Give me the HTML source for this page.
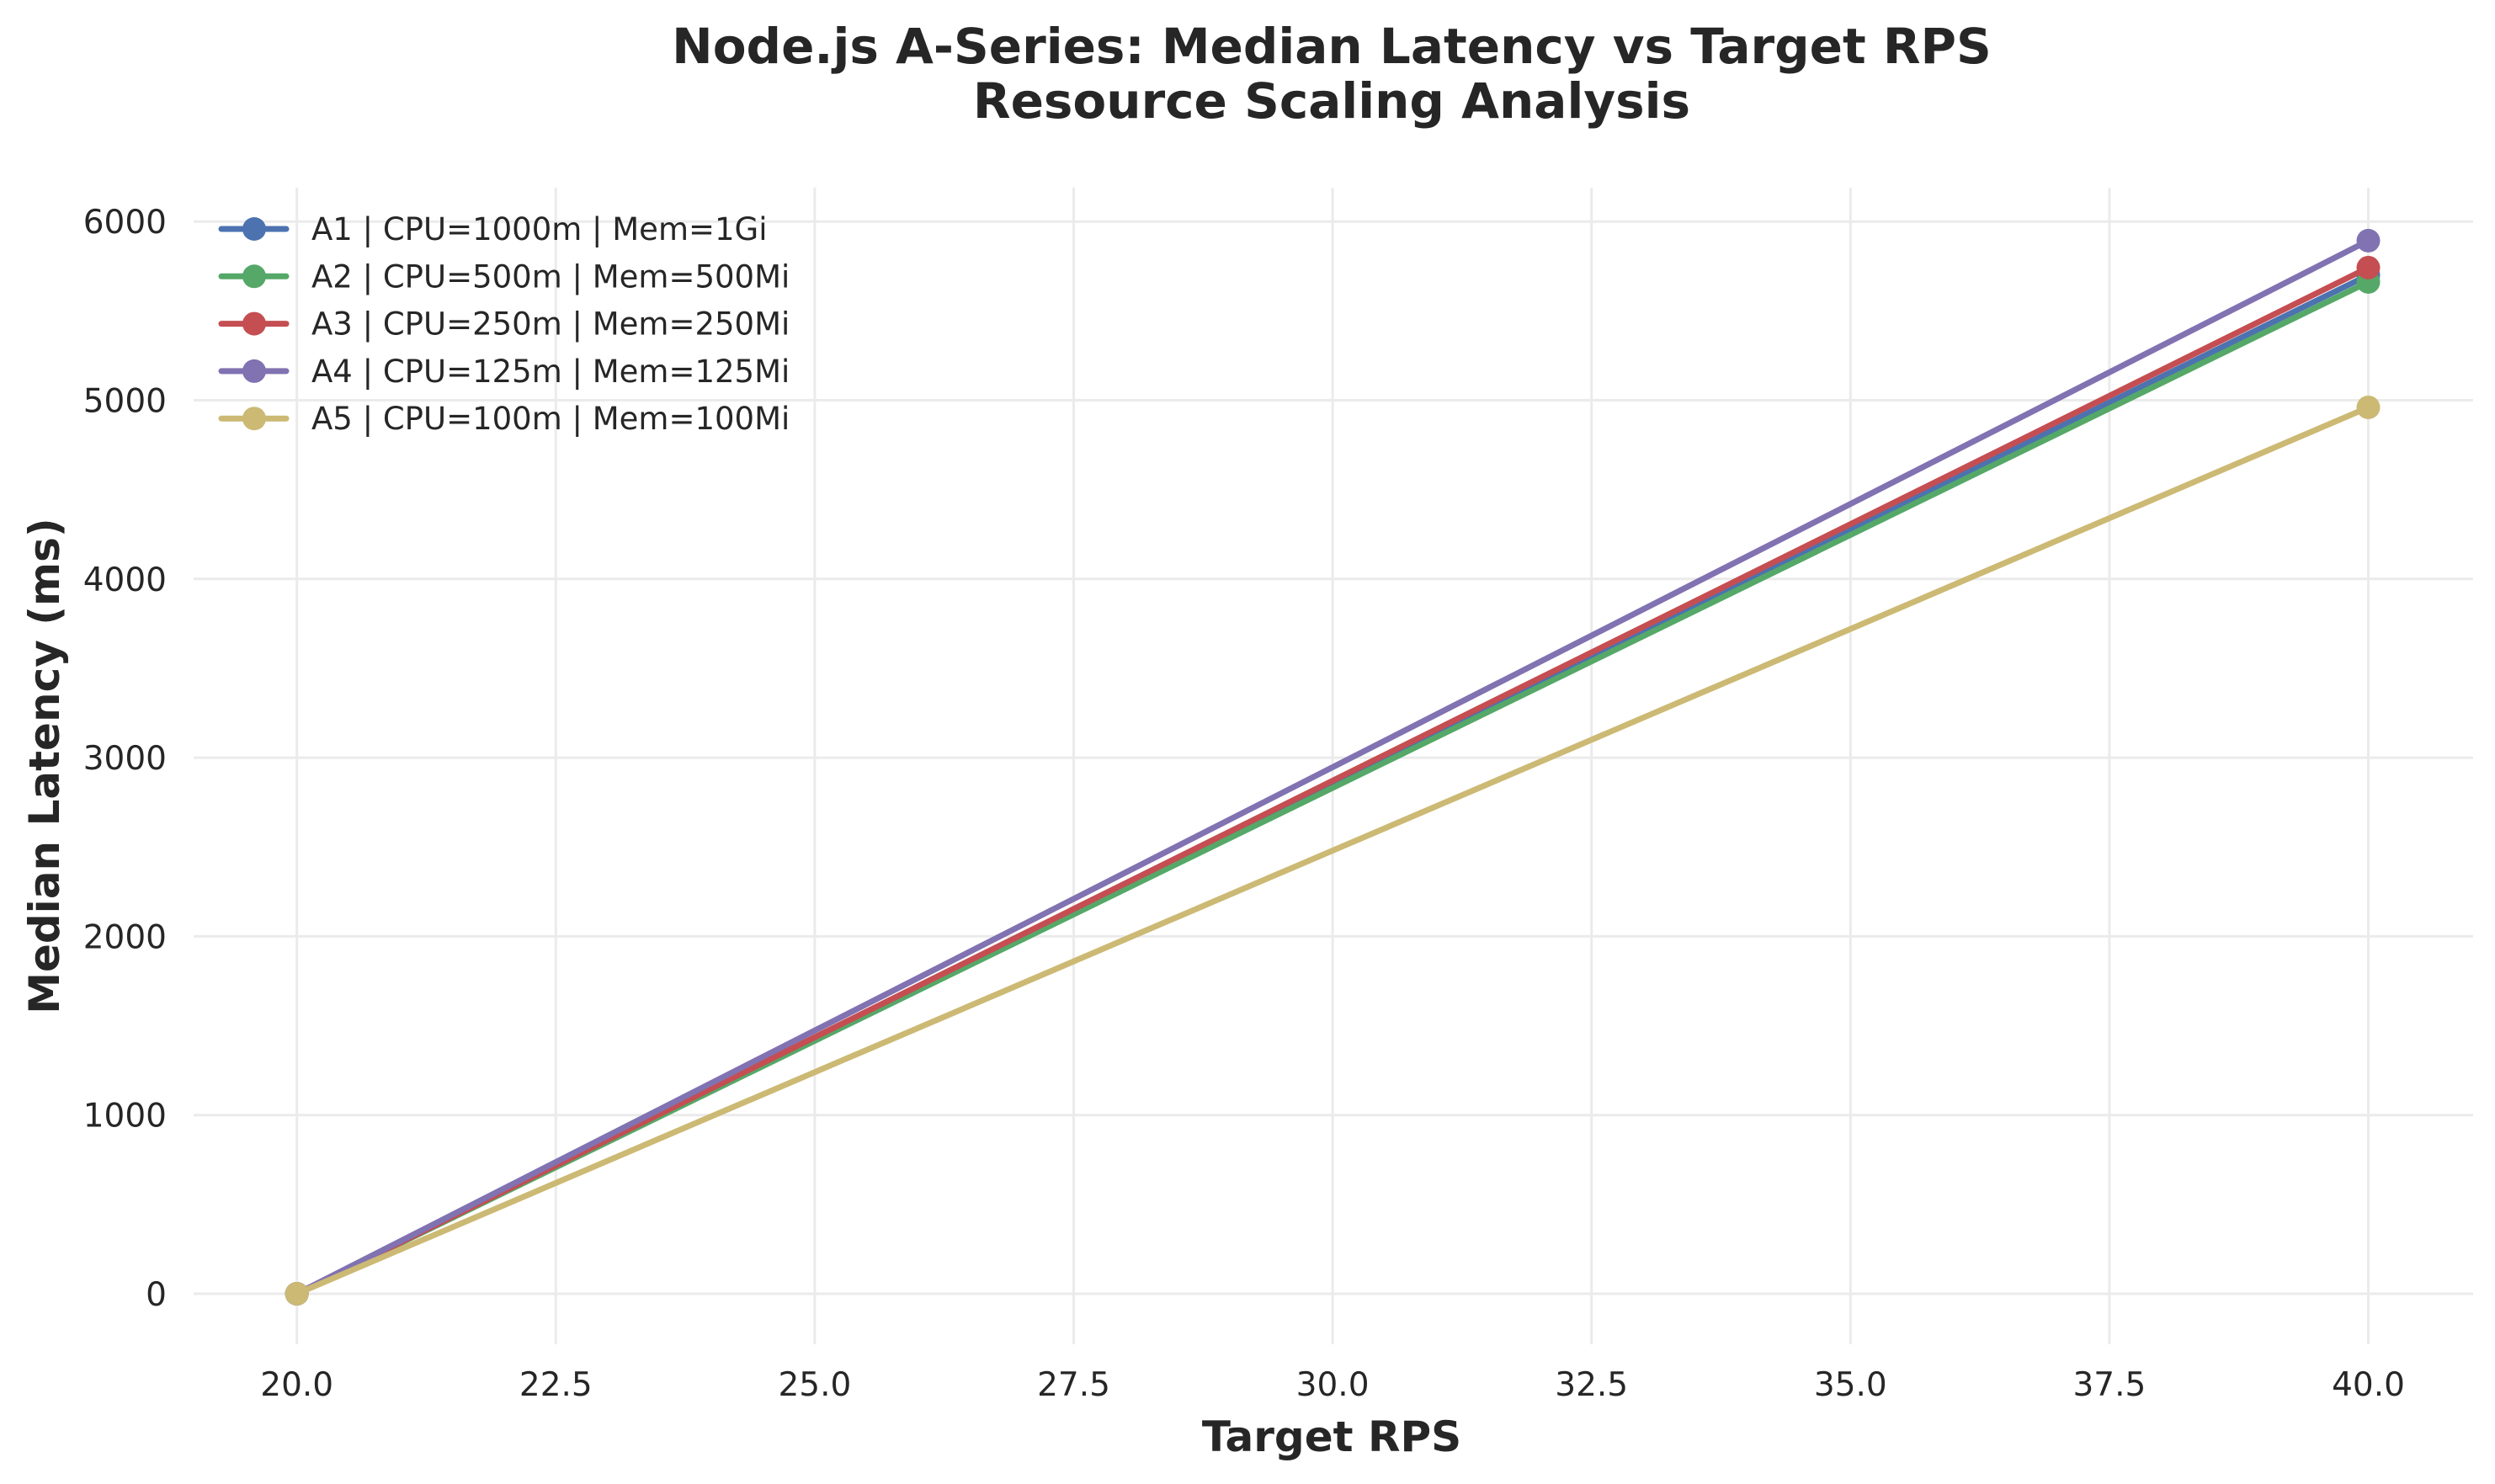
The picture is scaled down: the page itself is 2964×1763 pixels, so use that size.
<!DOCTYPE html>
<html><head><meta charset="utf-8"><style>
html,body{margin:0;padding:0;background:#fff;}
svg{display:block;font-family:"DejaVu Sans","Liberation Sans",sans-serif;}
</style></head><body>
<svg id="chart" width="2964" height="1763" viewBox="0 0 2964 1763">
<g>
<text x="1582" y="75" text-anchor="middle" font-size="58" font-weight="bold" fill="#262626">Node.js A-Series: Median Latency vs Target RPS</text>
<text x="1582" y="140" text-anchor="middle" font-size="58" font-weight="bold" fill="#262626">Resource Scaling Analysis</text>
</g>
<g id="grid"></g>
<g id="xticks"></g>
<g id="yticks"></g>
<text x="1582" y="1724" text-anchor="middle" font-size="50" font-weight="bold" fill="#262626">Target RPS</text>
<text transform="translate(70,910) rotate(-90)" text-anchor="middle" font-size="50" font-weight="bold" fill="#262626">Median Latency (ms)</text>
<g id="series"></g>
<g id="legend"></g>
</svg>
<script>
const xValues = [20, 40];
const seriesNames = ["A1 | CPU=1000m | Mem=1Gi","A2 | CPU=500m | Mem=500Mi","A3 | CPU=250m | Mem=250Mi","A4 | CPU=125m | Mem=125Mi","A5 | CPU=100m | Mem=100Mi"];
const a1Values = [0, 5700];
const a2Values = [0, 5662];
const a3Values = [0, 5742];
const a4Values = [0, 5893];
const a5Values = [0, 4960];
const xTicks = [20, 22.5, 25, 27.5, 30, 32.5, 35, 37.5, 40];
const yTicks = [0, 1000, 2000, 3000, 4000, 5000, 6000];
const colors = ["#4c72b0","#55a868","#c44e52","#8172b2","#ccb974"];

const NS = "http://www.w3.org/2000/svg";
function xs(v){ return 352.7 + (v - 20) * (2813.5 - 352.7) / 20; }
function ys(v){ return 1537 - v * 0.2123; }
function mk(tag, attrs, parent){ const e = document.createElementNS(NS, tag); for (const k in attrs) e.setAttribute(k, attrs[k]); parent.appendChild(e); return e; }

const grid = document.getElementById('grid');
xTicks.forEach(t => {
  const l = mk('line', {x1: xs(t), x2: xs(t), y1: 223, y2: 1597, stroke: '#ebebeb', 'stroke-width': 3}, grid);
  
  
  const tx = mk('text', {x: xs(t), y: 1658, 'text-anchor': 'middle', 'font-size': 39, fill: '#262626'}, document.getElementById('xticks'));
  tx.textContent = t.toFixed(1);
  
  
});
yTicks.forEach(t => {
  const l = mk('line', {x1: 230, x2: 2938, y1: ys(t), y2: ys(t), stroke: '#ebebeb', 'stroke-width': 3}, grid);
  
  
  const tx = mk('text', {x: 198, y: ys(t) + 14, 'text-anchor': 'end', 'font-size': 39, fill: '#262626'}, document.getElementById('yticks'));
  tx.textContent = t;
  
  
});

const allSeries = [a1Values, a2Values, a3Values, a4Values, a5Values];
const order = [0, 1, 2, 3, 4];
const sg = document.getElementById('series');
order.forEach(i => {
  const vals = allSeries[i];
  const g = mk('g', {}, sg);
  
  
  const pts = xValues.map((x, j) => xs(x) + ',' + ys(vals[j])).join(' ');
  const pl = mk('polyline', {points: pts, fill: 'none', stroke: colors[i], 'stroke-width': 7, 'stroke-linejoin': 'round', 'stroke-linecap': 'round'}, g);
  
  
  xValues.forEach((x, j) => {
    const c = mk('circle', {cx: xs(x), cy: ys(vals[j]), r: 14, fill: colors[i]}, g);
    
    
  });
});

const lg = document.getElementById('legend');
seriesNames.forEach((n, i) => {
  const y = 272 + i * 56.3;
  const g = mk('g', {}, lg);
  
  
  mk('line', {x1: 263, x2: 340, y1: y, y2: y, stroke: colors[i], 'stroke-width': 7, 'stroke-linecap': 'round'}, g);
  mk('circle', {cx: 302, cy: y, r: 14, fill: colors[i]}, g);
  const t = mk('text', {x: 370, y: y + 13, 'font-size': 37, fill: '#262626'}, g);
  t.textContent = n;
});
</script>
</body></html>
